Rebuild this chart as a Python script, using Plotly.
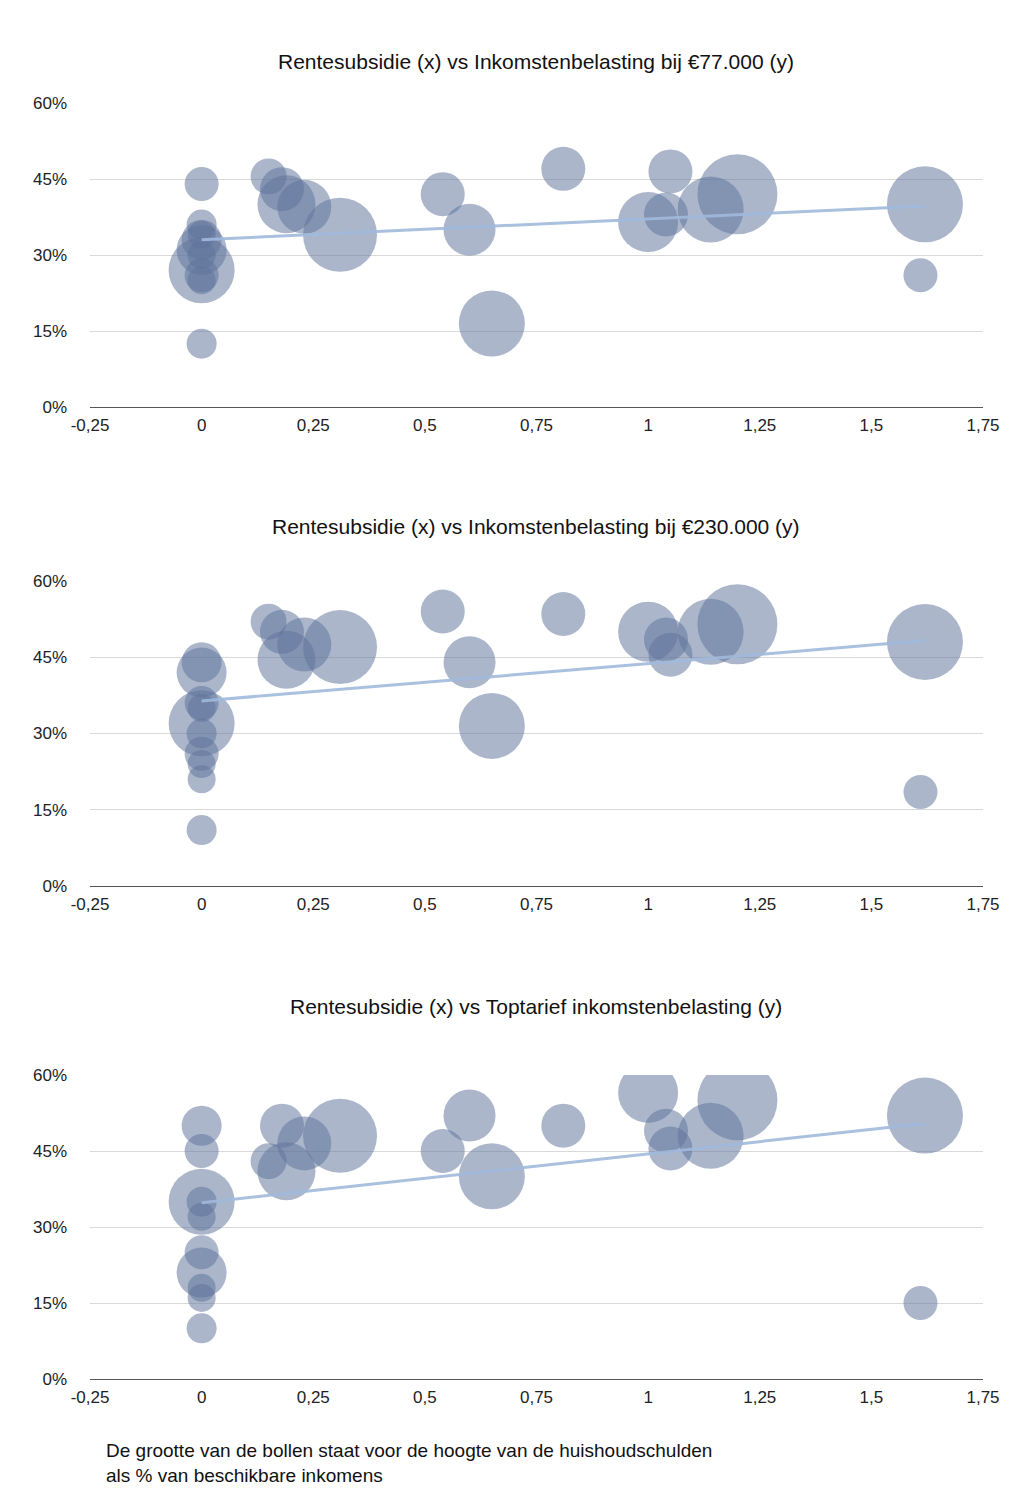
import numpy as np
import plotly.graph_objects as go

# rentesubsidie (x), bubble size = huishoudschuld (radius-ish), y per chart
x = [0, 0, 0, 0, 0, 0, 0, 0, 0, 0,
     0.15, 0.18, 0.19, 0.23, 0.31, 0.54, 0.60, 0.65, 0.81,
     1.00, 1.04, 1.05, 1.14, 1.20, 1.62, 1.61]
schuld = [33, 25, 20, 17, 15, 17, 15, 14, 14, 14,
          18, 22, 29, 27, 37, 22, 26, 33, 22,
          30, 22, 22, 33, 40, 38, 17]
y_77k = [27, 31, 33, 44, 36, 26, 12.5, 25, 30, 34,
         45.5, 43, 40, 39.5, 34, 42, 35, 16.5, 47,
         36.5, 38, 46.5, 39, 42, 40, 26]
y_230k = [32, 42, 44, 36, 30, 26, 11, 21, 24, 35,
          52, 50, 44.5, 47.5, 47, 54, 44, 31.5, 53.5,
          50, 48.5, 45.5, 50, 51.5, 48, 18.5]
y_top = [35, 21, 50, 45, 35, 25, 10, 16, 18, 32,
         43, 50, 41, 46.5, 48, 45, 52, 40, 50,
         56.5, 49, 45.5, 48, 55, 52, 15]

titles = ["Rentesubsidie (x) vs Inkomstenbelasting bij €77.000 (y)",
          "Rentesubsidie (x) vs Inkomstenbelasting bij €230.000 (y)",
          "Rentesubsidie (x) vs Toptarief inkomstenbelasting (y)"]
x_ticks = [-0.25, 0, 0.25, 0.5, 0.75, 1, 1.25, 1.5, 1.75]
x_labels = ["-0,25", "0", "0,25", "0,5", "0,75", "1", "1,25", "1,5", "1,75"]
y_ticks = [0, 15, 30, 45, 60]
y_labels = ["0%", "15%", "30%", "45%", "60%"]

H = 1504
W = 1015
# pixel rows of (top=60%, bottom=0%) and title rows
rows = [(95, 399, 40), (573, 878, 518), (1067, 1371, 1012)]

fig = go.Figure()
font = "Liberation Sans, Arial, sans-serif"

for i, (ys, title) in enumerate(zip([y_77k, y_230k, y_top], titles)):
    n = i + 1
    xa = "x" if n == 1 else f"x{n}"
    ya = "y" if n == 1 else f"y{n}"
    fig.add_trace(go.Scatter(
        x=x, y=ys, mode="markers", xaxis=xa, yaxis=ya, showlegend=False,
        marker=dict(size=[2 * s for s in schuld], sizemode="diameter",
                    color="rgba(96,116,156,0.75)", line=dict(width=0))))
    k, b = np.polyfit(x, ys, 1)
    xt = [min(x), max(x)]
    fig.add_trace(go.Scatter(
        x=xt, y=[k * v + b for v in xt], mode="lines", xaxis=xa, yaxis=ya,
        showlegend=False, line=dict(color="rgba(160,185,220,0.9)", width=3)))

    top, bot, trow = rows[i]
    fig.layout[f"xaxis{'' if n == 1 else n}"] = dict(
        domain=[82 / W, 975 / W], range=[-0.25, 1.75], anchor=ya,
        tickvals=x_ticks, ticktext=x_labels, showgrid=False, zeroline=False,
        showline=False, ticks="", automargin=False, ticklabelstandoff=6,
        tickfont=dict(size=17, color="#222"))
    fig.layout[f"yaxis{'' if n == 1 else n}"] = dict(
        domain=[1 - bot / H, 1 - top / H], range=[0, 60], anchor=xa,
        tickvals=y_ticks, ticktext=y_labels, showgrid=True, gridcolor="#d9d9d9",
        zeroline=True, zerolinecolor="#555", zerolinewidth=1,
        showline=False, ticks="", automargin=False, ticklabelstandoff=22,
        tickfont=dict(size=17, color="#222"))
    fig.add_annotation(text=title, xref="paper", yref="paper",
                       x=528 / W, y=1 - trow / H, showarrow=False,
                       font=dict(size=21, color="#111"))

fig.add_annotation(
    text="De grootte van de bollen staat voor de hoogte van de huishoudschulden<br>als % van beschikbare inkomens",
    xref="paper", yref="paper", x=96 / W, y=1 - 1430 / H, xanchor="left", yanchor="top",
    align="left", showarrow=False, font=dict(size=19, color="#111"))

fig.update_layout(width=W, height=H, margin=dict(l=0, r=0, t=0, b=0),
                  plot_bgcolor="white", paper_bgcolor="white",
                  font=dict(family=font))
fig.write_html("out.html")
